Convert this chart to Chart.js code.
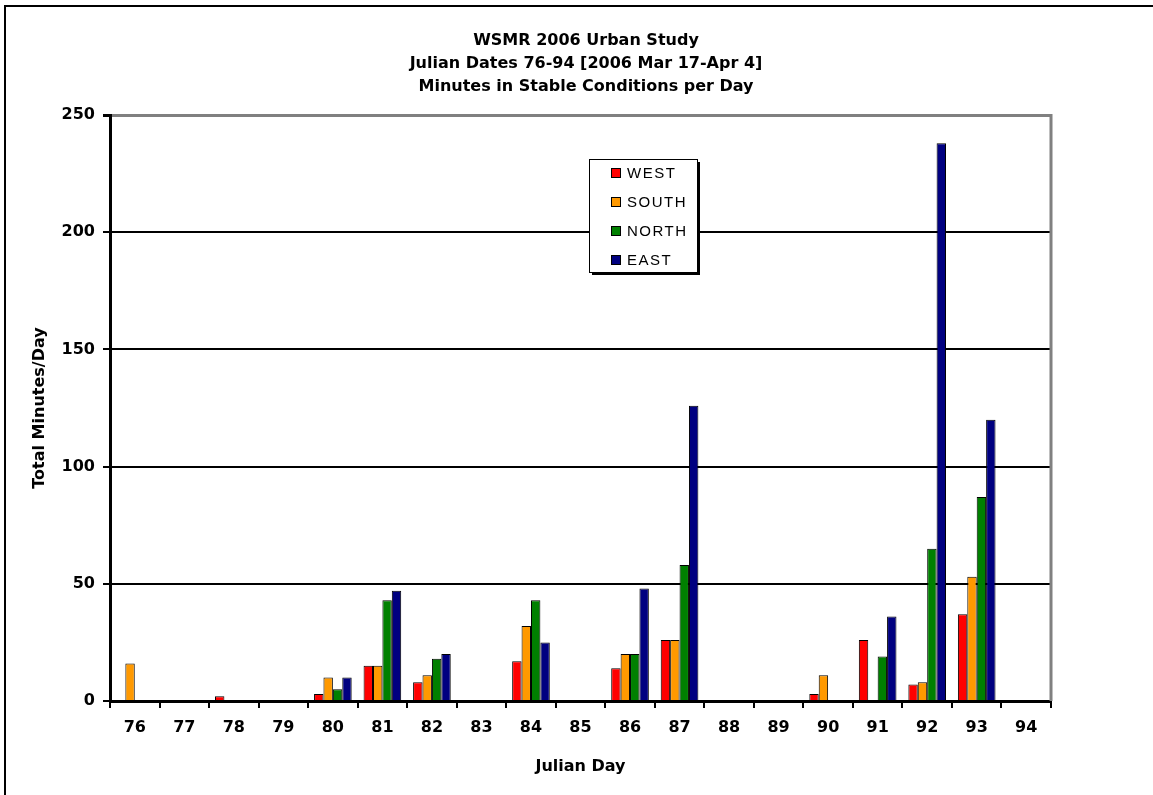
<!DOCTYPE html>
<html>
<head>
<meta charset="utf-8">
<title>WSMR 2006 Urban Study</title>
<script src="https://cdn.jsdelivr.net/npm/chart.js@4"></script>
<style>
  html, body { margin: 0; padding: 0; background: #fff; }
  #grafico { display: block; }
</style>
</head>
<body>
<canvas id="grafico" width="1153" height="795"></canvas>
<script>
// datos (minutos por dia)
const diasJulianos = ['76', '77', '78', '79', '80', '81', '82', '83', '84', '85', '86', '87', '88', '89', '90', '91', '92', '93', '94'];
const west  = [0, 0, 2, 0, 3, 15, 8, 0, 17, 0, 14, 26, 0, 0, 3, 26, 7, 37, 0];
const south = [16, 0, 0, 0, 10, 15, 11, 0, 32, 0, 20, 26, 0, 0, 11, 0, 8, 53, 0];
const north = [0, 0, 0, 0, 5, 43, 18, 0, 43, 0, 20, 58, 0, 0, 0, 19, 65, 87, 0];
const east  = [0, 0, 0, 0, 10, 47, 20, 0, 25, 0, 48, 126, 0, 0, 0, 36, 238, 120, 0];
const seriesNombres = ['WEST', 'SOUTH', 'NORTH', 'EAST'];
const seriesColores = ['#FF0000', '#FF9900', '#008000', '#000080'];
const titulo = [
  'WSMR 2006 Urban Study',
  'Julian Dates 76-94 [2006 Mar 17-Apr 4]',
  'Minutes in Stable Conditions per Day'
];

const fuenteNegrita = (size) => ({ family: '"DejaVu Sans", sans-serif', size: size, weight: 'bold' });

const marcoPlugin = {
  id: 'marco',
  beforeDraw(chart) {
    const ctx = chart.ctx;
    ctx.save();
    ctx.fillStyle = '#fff';
    ctx.fillRect(0, 0, chart.width, chart.height);
    ctx.strokeStyle = '#000';
    ctx.lineWidth = 2;
    ctx.beginPath();
    ctx.moveTo(5, chart.height);
    ctx.lineTo(5, 6);
    ctx.lineTo(chart.width, 6);
    ctx.stroke();

    // titulo
    ctx.fillStyle = '#000';
    ctx.font = 'bold 16px "DejaVu Sans", sans-serif';
    ctx.textAlign = 'center';
    ctx.textBaseline = 'middle';
    titulo.forEach((t, i) => ctx.fillText(t, 586, 41 + i * 23));
    ctx.restore();
  },
  afterDraw(chart) {
    const ctx = chart.ctx;
    const a = chart.chartArea;
    ctx.save();
    // borde derecho gris del area de trazado
    ctx.strokeStyle = '#808080';
    ctx.lineWidth = 3;
    ctx.beginPath();
    ctx.moveTo(a.right, a.top - 1);
    ctx.lineTo(a.right, a.bottom);
    ctx.stroke();

    // leyenda
    const lx = 589, ly = 159, lw = 108, lh = 113;
    ctx.fillStyle = '#000';
    ctx.fillRect(lx + 3, ly + 3, lw, lh);
    ctx.fillStyle = '#fff';
    ctx.fillRect(lx, ly, lw, lh);
    ctx.strokeStyle = '#000';
    ctx.lineWidth = 1;
    ctx.strokeRect(lx + 0.5, ly + 0.5, lw, lh);
    ctx.font = '15px "Liberation Sans", Arial, sans-serif';
    ctx.letterSpacing = '1.5px';
    ctx.textAlign = 'left';
    ctx.textBaseline = 'middle';
    chart.data.datasets.forEach((ds, i) => {
      const y = ly + 14 + i * 29;
      ctx.fillStyle = ds.backgroundColor;
      ctx.fillRect(lx + 22, y - 5, 10, 10);
      ctx.strokeStyle = '#000';
      ctx.strokeRect(lx + 22.5, y - 4.5, 9, 9);
      ctx.fillStyle = '#000';
      ctx.fillText(ds.label, lx + 38, y + 1);
    });
    ctx.restore();
  }
};

new Chart(document.getElementById('grafico').getContext('2d'), {
  type: 'bar',
  data: {
    labels: diasJulianos,
    datasets: [west, south, north, east].map((d, i) => ({
      label: seriesNombres[i],
      data: d,
      backgroundColor: seriesColores[i],
      borderColor: '#000',
      borderWidth: 1,
      borderSkipped: 'start',
      categoryPercentage: 0.76,
      barPercentage: 1
    }))
  },
  options: {
    responsive: false,
    animation: false,
    layout: { padding: { left: 0, top: 115, right: 102, bottom: 0 } },
    plugins: {
      legend: { display: false },
      title: { display: false },
      tooltip: { enabled: false }
    },
    scales: {
      x: {
        afterFit: (s) => { s.height = 94; },
        grid: {
          display: true,
          drawOnChartArea: false,
          offset: true,
          color: '#000',
          lineWidth: 2,
          tickLength: 7
        },
        border: { color: '#000', width: 3 },
        ticks: { color: '#000', font: fuenteNegrita(16), padding: 10, maxRotation: 0 },
        title: {
          display: true,
          text: 'Julian Day',
          color: '#000',
          font: fuenteNegrita(16),
          padding: { top: 0, bottom: 19 }
        }
      },
      y: {
        min: 0,
        max: 250,
        afterFit: (s) => { s.width = 110; },
        grid: {
          color: (c) => (c.tick && c.tick.value === 250 ? '#808080' : '#000'),
          tickColor: '#000',
          lineWidth: (c) => (c.tick && c.tick.value === 250 ? 3 : 2),
          tickLength: 7
        },
        border: { color: '#000', width: 3 },
        ticks: { stepSize: 50, color: '#000', font: fuenteNegrita(16), padding: 8 },
        title: {
          display: true,
          text: 'Total Minutes/Day',
          color: '#000',
          font: fuenteNegrita(16),
          padding: { top: 30, bottom: 0 }
        }
      }
    }
  },
  plugins: [marcoPlugin]
});
</script>
</body>
</html>
